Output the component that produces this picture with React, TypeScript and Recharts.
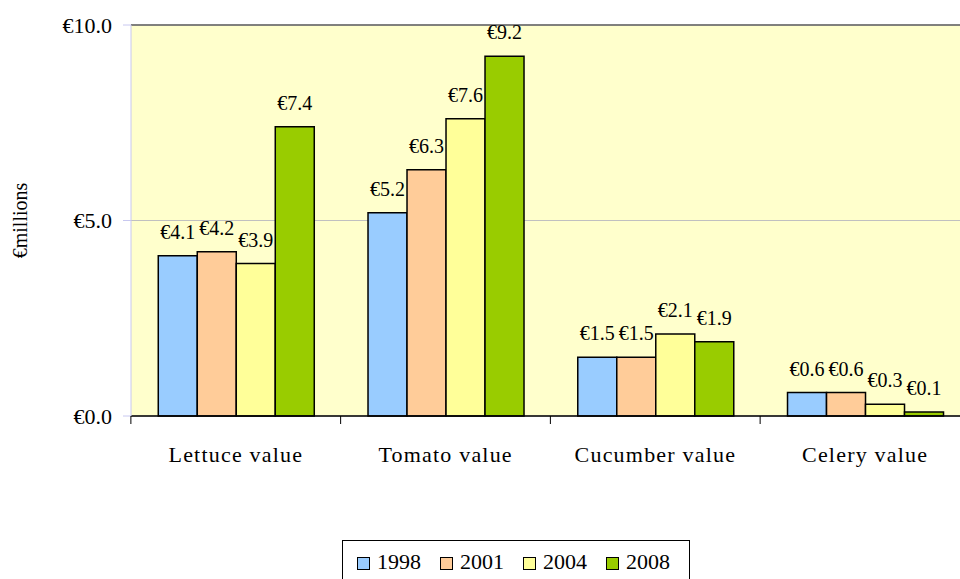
import { Bar, BarChart, CartesianGrid, LabelList, ReferenceLine, XAxis, YAxis } from "recharts";

const categories = ["Lettuce value", "Tomato value", "Cucumber value", "Celery value"];
const years = ["1998", "2001", "2004", "2008"];
const values1998 = [4.1, 5.2, 1.5, 0.6];
const values2001 = [4.2, 6.3, 1.5, 0.6];
const values2004 = [3.9, 7.6, 2.1, 0.3];
const values2008 = [7.4, 9.2, 1.9, 0.1];
const yTicks = [0, 5, 10];

const colors = ["#99CCFF", "#FFCC99", "#FFFF99", "#99CC00"];
const FONT = '"Liberation Serif", "Times New Roman", serif';

const data = categories.map((name, i) => ({
  name,
  y1998: values1998[i],
  y2001: values2001[i],
  y2004: values2004[i],
  y2008: values2008[i],
}));

const euro = (v: number) => `€${v.toFixed(1)}`;

function CategoryTick({ x, y, payload }: any) {
  return (
    <g>
      <line x1={x - 105} x2={x - 105} y1={y} y2={y + 8} stroke="#000" />
      <text
        x={x}
        y={y + 46}
        textAnchor="middle"
        fill="#000"
        style={{ fontFamily: FONT, fontSize: 22, letterSpacing: 1.2 }}
      >
        {payload.value}
      </text>
    </g>
  );
}

function ValueLabel({ x, y, width, value }: any) {
  return (
    <text
      x={x + width / 2}
      y={y - 17}
      textAnchor="middle"
      fill="#000"
      style={{ fontFamily: FONT, fontSize: 20 }}
    >
      {euro(value)}
    </text>
  );
}

export default function App() {
  return (
    <div
      style={{
        position: "absolute",
        left: 0,
        top: 0,
        width: 960,
        height: 579,
        overflow: "hidden",
        background: "#fff",
      }}
    >
      <BarChart
        width={980}
        height={579}
        data={data}
        barGap={0}
        barCategoryGap="13%"
        margin={{ top: 25, right: 10, left: 0, bottom: 103 }}
      >
        <CartesianGrid vertical={false} stroke="#C0C0C0" fill="#FFFFCC" />
        <ReferenceLine y={10} stroke="#606060" strokeWidth={1.5} />
        <XAxis
          dataKey="name"
          height={60}
          tickSize={0}
          tickMargin={0}
          interval={0}
          axisLine={{ stroke: "#000", strokeWidth: 1.5 }}
          tick={<CategoryTick />}
        />
        <YAxis
          width={131}
          domain={[0, 10]}
          ticks={yTicks}
          tickSize={8}
          tickMargin={11}
          axisLine={{ stroke: "#C8C8F0" }}
          tickLine={{ stroke: "#C8C8F0" }}
          tickFormatter={euro}
          tick={{ fill: "#000", fontSize: 22, fontFamily: FONT }}
          label={{
            value: "€millions",
            angle: -90,
            position: "insideLeft",
            offset: 20,
            fill: "#000",
            style: { textAnchor: "middle", fontFamily: FONT, fontSize: 20 },
          }}
        />
        {years.map((yr, i) => (
          <Bar
            key={yr}
            dataKey={`y${yr}`}
            name={yr}
            fill={colors[i]}
            stroke="#000"
            strokeWidth={1.5}
            isAnimationActive={false}
          >
            <LabelList dataKey={`y${yr}`} content={<ValueLabel />} />
          </Bar>
        ))}
      </BarChart>
      <div
        style={{
          position: "absolute",
          left: 342,
          top: 540,
          width: 348,
          height: 50,
          border: "1.5px solid #000",
          boxSizing: "border-box",
          display: "flex",
          alignItems: "flex-start",
          paddingTop: 10,
          paddingLeft: 14,
          fontFamily: FONT,
          fontSize: 22,
          color: "#000",
        }}
      >
        {years.map((yr, i) => (
          <div
            key={yr}
            style={{ display: "flex", alignItems: "center", width: 88, lineHeight: "22px" }}
          >
            <span
              style={{
                display: "inline-block",
                width: 11,
                height: 11,
                border: "1.5px solid #000",
                background: colors[i],
                marginRight: 7,
                marginTop: 2,
              }}
            />
            {yr}
          </div>
        ))}
      </div>
    </div>
  );
}
